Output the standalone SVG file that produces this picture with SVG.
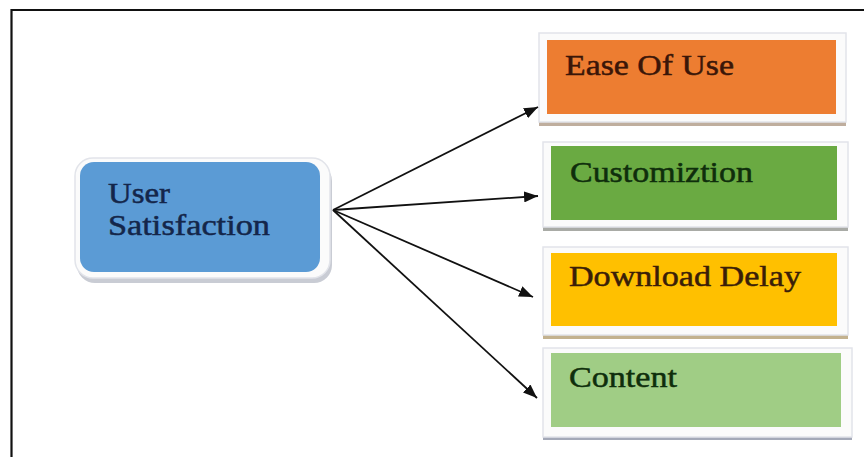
<svg xmlns="http://www.w3.org/2000/svg" width="864" height="457" viewBox="0 0 864 457">
  <defs>
    <marker id="arr" viewBox="0 0 14 11" refX="14" refY="5.5" markerWidth="14" markerHeight="11" markerUnits="userSpaceOnUse" orient="auto">
      <path d="M0,0 L14,5.5 L0,11 z" fill="#111"/>
    </marker>
  </defs>
  <style>
    .frame { fill: #fbfbfb; stroke: #e2e4ea; stroke-width: 1.5; }
    .lbl { font-family: "Liberation Serif", "Times New Roman", serif; font-size: 30px; stroke-width: 0.5; }
    .conn { stroke: #111; stroke-width: 1.8; fill: none; marker-end: url(#arr); }
  </style>
  <rect width="864" height="457" fill="#fff"/>
  <path d="M11.5,457 V10 H864" fill="none" stroke="#111" stroke-width="2.2"/>

  <g id="user-satisfaction">
    <rect x="77" y="163" width="255" height="120" rx="18" fill="#c9ccd4"/>
    <rect x="75" y="158" width="255" height="120" rx="18" class="frame"/>
    <rect x="80" y="162" width="240" height="110" rx="14" fill="#5b9bd5"/>
    <text class="lbl" fill="#14264a" stroke="#14264a" x="108" y="203" textLength="62" lengthAdjust="spacingAndGlyphs">User</text>
    <text class="lbl" fill="#14264a" stroke="#14264a" x="108" y="235" textLength="162" lengthAdjust="spacingAndGlyphs">Satisfaction</text>
  </g>

  <g id="ease-of-use">
    <rect x="539" y="121" width="307" height="5" fill="#bfae9e"/>
    <rect x="539" y="33" width="307" height="89" class="frame"/>
    <rect x="547" y="40" width="289" height="74" fill="#ed7d31"/>
    <text class="lbl" fill="#3a1608" stroke="#3a1608" x="565" y="75" textLength="169" lengthAdjust="spacingAndGlyphs">Ease Of Use</text>
  </g>

  <g id="customization">
    <rect x="543" y="226" width="305" height="5" fill="#a9aba6"/>
    <rect x="543" y="142" width="305" height="85" class="frame"/>
    <rect x="551" y="146" width="286" height="74" fill="#6aaa42"/>
    <text class="lbl" fill="#0f2e0c" stroke="#0f2e0c" x="570" y="182" textLength="183" lengthAdjust="spacingAndGlyphs">Customiztion</text>
  </g>

  <g id="download-delay">
    <rect x="543" y="334" width="305" height="5" fill="#c3b28f"/>
    <rect x="543" y="247" width="305" height="88" class="frame"/>
    <rect x="551" y="253" width="286" height="73" fill="#ffc000"/>
    <text class="lbl" fill="#3a1e08" stroke="#3a1e08" x="569" y="286" textLength="232" lengthAdjust="spacingAndGlyphs">Download Delay</text>
  </g>

  <g id="content">
    <rect x="543" y="436" width="309" height="4" fill="#a4a9b8"/>
    <rect x="543" y="348" width="309" height="89" class="frame"/>
    <rect x="551" y="353" width="290" height="74" fill="#a0cd85"/>
    <text class="lbl" fill="#0f2e0c" stroke="#0f2e0c" x="569" y="387" textLength="108" lengthAdjust="spacingAndGlyphs">Content</text>
  </g>

  <g id="connectors">
    <line class="conn" x1="333" y1="210" x2="538" y2="107"/>
    <line class="conn" x1="333" y1="210" x2="538" y2="196"/>
    <line class="conn" x1="333" y1="210" x2="533" y2="297"/>
    <line class="conn" x1="333" y1="210" x2="537" y2="398"/>
  </g>
</svg>
